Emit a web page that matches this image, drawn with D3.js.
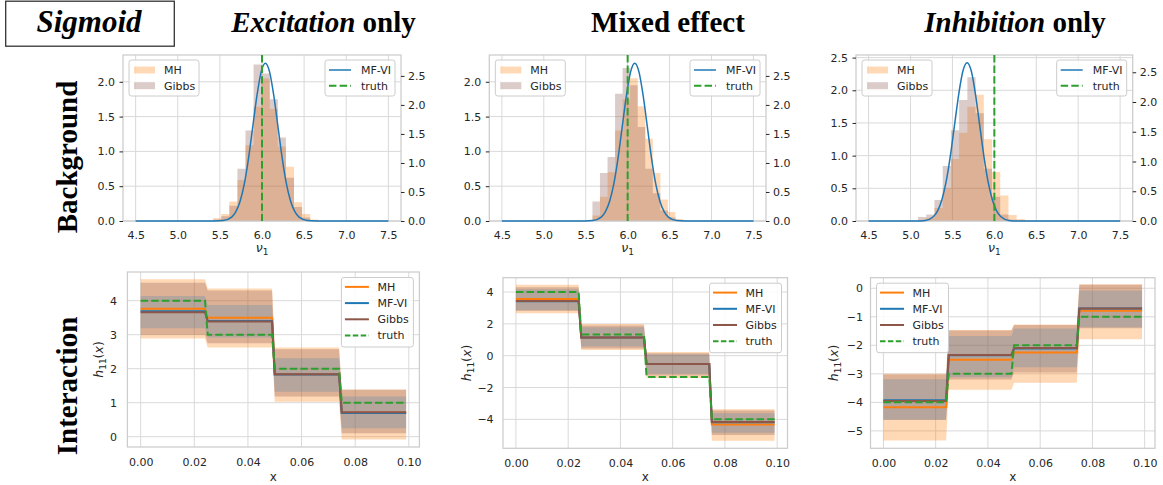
<!DOCTYPE html>
<html><head><meta charset="utf-8">
<script src="https://cdn.jsdelivr.net/npm/d3@7"></script>
<style>body{margin:0;background:#fff}svg{display:block}</style>
</head><body>
<svg id="c" width="1163" height="485"></svg>
<script>
// ================= DATA =================
const cornerLabel = "Sigmoid";
const colTitlesItalic = ["Excitation", "", "Inhibition"];
const colTitlesPlain  = [" only", "Mixed effect", " only"];
const rowTitles = ["Background", "Interaction"];

// top row: posterior of nu_1
const nuTicks = [4.5, 5.0, 5.5, 6.0, 6.5, 7.0, 7.5];
const nuLimits = [4.35, 7.65];
const densTicksLeft = [[0, 0.5, 1.0, 1.5, 2.0], [0, 0.5, 1.0, 1.5, 2.0], [0, 0.5, 1.0, 1.5, 2.0, 2.5]];
const densTicksRight = [0, 0.5, 1.0, 1.5, 2.0, 2.5];
const densLimitsLeft = [[0, 2.385], [0, 2.385], [0, 2.54]];
const densLimitsRight = [[0, 2.86], [0, 2.86], [0, 2.79]];
const truthNu = 6.0;

// histograms (bin start, bin width, densities)
const excBinStart = 5.42, excBinWidth = 0.096;
const excMH    = [0.04, 0.10, 0.28, 0.59, 1.09, 1.64, 2.05, 1.61, 1.07, 0.78, 0.27, 0.10, 0.02];
const excGibbs = [0.02, 0.07, 0.22, 0.75, 1.30, 2.25, 2.12, 1.75, 1.20, 0.62, 0.20, 0.05, 0.01];
const mixBinStart = 5.58, mixBinWidth = 0.09;
const mixMH    = [0.08, 0.35, 0.70, 1.30, 1.75, 2.05, 1.65, 1.18, 0.69, 0.31, 0.13, 0.03];
const mixGibbs = [0.28, 0.69, 0.92, 1.83, 2.20, 1.95, 1.35, 0.75, 0.40, 0.15, 0.05, 0.01];
const inhBinStart = 5.09, inhBinWidth = 0.098;
const inhMH    = [0.02, 0.05, 0.20, 0.50, 0.95, 1.35, 1.75, 1.93, 1.25, 0.75, 0.39, 0.09, 0.03];
const inhGibbs = [0.06, 0.10, 0.32, 0.84, 1.39, 1.85, 2.20, 1.65, 0.80, 0.37, 0.10, 0.02, 0.00];

// MF-VI density curves
const excVIx = [4.5, 5.44, 5.54, 5.64, 5.69, 5.74, 5.79, 5.84, 5.89, 5.94, 5.99, 6.04, 6.09, 6.14, 6.19, 6.24, 6.29, 6.34, 6.39, 6.44, 6.54, 6.64, 7.5];
const excVIy = [0, 0.001, 0.008, 0.067, 0.16, 0.34, 0.64, 1.08, 1.62, 2.16, 2.57, 2.72, 2.57, 2.16, 1.62, 1.08, 0.64, 0.34, 0.16, 0.067, 0.008, 0.001, 0];
const mixVIx = [4.5, 5.485, 5.585, 5.685, 5.735, 5.785, 5.835, 5.885, 5.935, 5.985, 6.035, 6.085, 6.135, 6.185, 6.235, 6.285, 6.335, 6.385, 6.435, 6.485, 6.585, 6.685, 7.5];
const mixVIy = [0, 0.001, 0.008, 0.067, 0.16, 0.34, 0.64, 1.08, 1.62, 2.16, 2.57, 2.72, 2.57, 2.16, 1.62, 1.08, 0.64, 0.34, 0.16, 0.067, 0.008, 0.001, 0];
const inhVIx = [4.5, 5.075, 5.175, 5.275, 5.325, 5.375, 5.425, 5.475, 5.525, 5.575, 5.625, 5.675, 5.725, 5.775, 5.825, 5.875, 5.925, 5.975, 6.025, 6.075, 6.175, 6.275, 7.5];
const inhVIy = [0, 0.001, 0.010, 0.076, 0.175, 0.36, 0.66, 1.09, 1.61, 2.13, 2.52, 2.66, 2.52, 2.13, 1.61, 1.09, 0.66, 0.36, 0.175, 0.076, 0.010, 0.001, 0];

// bottom row: interaction functions h11(x), piecewise constant
const xTicks = [0, 0.02, 0.04, 0.06, 0.08, 0.10];
const xLimits = [-0.00495, 0.10395];
const segStart = [0, 0.025, 0.050, 0.075];
const segEnd   = [0.024, 0.049, 0.074, 0.099];
const hTicks = [[0, 1, 2, 3, 4], [-4, -2, 0, 2, 4], [-5, -4, -3, -2, -1, 0]];
const hLimits = [[-0.303, 4.844], [-5.82, 4.90], [-5.61, 0.37]];

const excTruth = [4, 3, 2, 1];
const excMHmean = [3.76, 3.50, 1.84, 0.71];
const excVImean = [3.69, 3.40, 1.83, 0.70];
const excGBmean = [3.66, 3.39, 1.84, 0.72];
const excMHlo = [2.89, 2.62, 1.03, -0.08], excMHhi = [4.63, 4.36, 2.62, 1.39];
const excGBlo = [3.00, 2.75, 1.18, 0.10],  excGBhi = [4.53, 4.30, 2.57, 1.38];
const excVIlo = [3.19, 2.92, 1.32, 0.25],  excVIhi = [4.14, 3.87, 2.31, 1.18];

const mixTruth = [4, 1.333, -1.333, -4];
const mixMHmean = [3.56, 1.15, -0.52, -4.33];
const mixVImean = [3.42, 1.14, -0.53, -4.18];
const mixGBmean = [3.43, 1.15, -0.52, -4.17];
const mixMHlo = [2.66, 0.36, -1.40, -5.34], mixMHhi = [4.46, 1.99, 0.23, -3.37];
const mixGBlo = [2.80, 0.45, -1.25, -4.98], mixGBhi = [4.30, 1.90, 0.15, -3.45];
const mixVIlo = [2.87, 0.57, -1.15, -4.84], mixVIhi = [4.17, 1.78, 0.08, -3.62];

const inhTruth = [-4, -3, -2, -1];
const inhMHmean = [-4.17, -2.51, -2.25, -0.79];
const inhVImean = [-3.93, -2.35, -2.11, -0.71];
const inhGBmean = [-3.95, -2.34, -2.09, -0.71];
const inhMHlo = [-5.34, -3.56, -3.31, -1.79], inhMHhi = [-3.00, -1.46, -1.27, 0.14];
const inhGBlo = [-4.62, -3.20, -2.95, -1.40], inhGBhi = [-3.02, -1.48, -1.29, 0.12];
const inhVIlo = [-4.61, -3.12, -2.77, -1.37], inhVIhi = [-3.19, -1.67, -1.41, -0.08];

// ================= DRAWING =================
const C = {orange:"#ff7f0e", blue:"#1f77b4", brown:"#8c564b", green:"#2ca02c",
           grid:"#d9d9d9", spine:"#cccccc", text:"#262626"};
const SANS = "'DejaVu Sans', sans-serif";
const SERIF = "'Liberation Serif', 'Times New Roman', serif";
const svg = d3.select("#c");

function styleAxis(g) {
  g.select(".domain").remove();
  g.selectAll(".tick line").attr("stroke", C.text).attr("stroke-width", 1);
  g.selectAll(".tick text").attr("fill", C.text).style("font-family", SANS).style("font-size", "11px");
}

function legend(g, x0, y0, w, h, items, rowY, dy, handleX, handleW, textX) {
  const lg = g.append("g");
  lg.append("rect").attr("x", x0).attr("y", y0).attr("width", w).attr("height", h)
    .attr("rx", 2.5).attr("fill", "#fff").attr("fill-opacity", 0.85)
    .attr("stroke", C.spine).attr("stroke-width", 1);
  items.forEach((it, i) => {
    const yy = y0 + rowY + i * dy;
    if (it.type === "patch") {
      lg.append("rect").attr("x", x0 + handleX).attr("y", yy - 3.5).attr("width", handleW).attr("height", 7)
        .attr("fill", it.color).attr("fill-opacity", it.alpha);
    } else {
      lg.append("line").attr("x1", x0 + handleX).attr("x2", x0 + handleX + handleW).attr("y1", yy).attr("y2", yy)
        .attr("stroke", it.color).attr("stroke-width", it.width)
        .attr("stroke-dasharray", it.dash || null);
    }
    lg.append("text").attr("x", x0 + textX).attr("y", yy).attr("dy", "0.36em")
      .attr("fill", C.text).style("font-family", SANS).style("font-size", "11px").text(it.label);
  });
}

// ---------- top panels ----------
const topBoxes = [{l:123, r:401, t:55, b:221}, {l:489.3, r:766, t:55, b:221}, {l:856, r:1132.7, t:55, b:221}];
const topData = [
  {start: excBinStart, w: excBinWidth, mh: excMH, gb: excGibbs, vx: excVIx, vy: excVIy},
  {start: mixBinStart, w: mixBinWidth, mh: mixMH, gb: mixGibbs, vx: mixVIx, vy: mixVIy},
  {start: inhBinStart, w: inhBinWidth, mh: inhMH, gb: inhGibbs, vx: inhVIx, vy: inhVIy}
];

function histPoints(start, w, h) {
  const pts = h.map((v, i) => [start + i * w, v]);
  pts.push([start + h.length * w, h[h.length - 1]]);
  return pts;
}

topData.forEach((d, k) => {
  const p = topBoxes[k];
  const g = svg.append("g");
  const x = d3.scaleLinear().domain(nuLimits).range([p.l, p.r]);
  const yl = d3.scaleLinear().domain(densLimitsLeft[k]).range([p.b, p.t]);
  const yr = d3.scaleLinear().domain(densLimitsRight[k]).range([p.b, p.t]);

  g.selectAll(null).data(nuTicks).join("line")
    .attr("x1", v => x(v)).attr("x2", v => x(v)).attr("y1", p.t).attr("y2", p.b)
    .attr("stroke", C.grid).attr("stroke-width", 1);
  g.selectAll(null).data(densTicksLeft[k]).join("line")
    .attr("x1", p.l).attr("x2", p.r).attr("y1", v => yl(v)).attr("y2", v => yl(v))
    .attr("stroke", C.grid).attr("stroke-width", 1);

  const area = d3.area().curve(d3.curveStepAfter).x(q => x(q[0])).y0(yl(0)).y1(q => yl(q[1]));
  g.append("path").attr("d", area(histPoints(d.start, d.w, d.mh))).attr("fill", C.orange).attr("fill-opacity", 0.3);
  g.append("path").attr("d", area(histPoints(d.start, d.w, d.gb))).attr("fill", C.brown).attr("fill-opacity", 0.3);

  g.append("rect").attr("x", p.l).attr("y", p.t).attr("width", p.r - p.l).attr("height", p.b - p.t)
    .attr("fill", "none").attr("stroke", C.spine).attr("stroke-width", 1.25);

  const line = d3.line().curve(d3.curveMonotoneX).x(q => x(q[0])).y(q => yr(q[1]));
  g.append("path").attr("d", line(d.vx.map((v, i) => [v, d.vy[i]])))
    .attr("fill", "none").attr("stroke", C.blue).attr("stroke-width", 1.5);
  g.append("line").attr("x1", x(truthNu)).attr("x2", x(truthNu)).attr("y1", p.t).attr("y2", p.b)
    .attr("stroke", C.green).attr("stroke-width", 2).attr("stroke-dasharray", "7.4,3.2");

  const ax = g.append("g").attr("transform", `translate(0,${p.b})`)
    .call(d3.axisBottom(x).tickValues(nuTicks).tickSize(0).tickPadding(9.7).tickFormat(d3.format(".1f")));
  styleAxis(ax);
  const ayl = g.append("g").attr("transform", `translate(${p.l},0)`)
    .call(d3.axisLeft(yl).tickValues(densTicksLeft[k]).tickSize(3.5).tickPadding(4.5).tickFormat(d3.format(".1f")));
  styleAxis(ayl);
  const ayr = g.append("g").attr("transform", `translate(${p.r},0)`)
    .call(d3.axisRight(yr).tickValues(densTicksRight).tickSize(3.5).tickPadding(3.5).tickFormat(d3.format(".1f")));
  styleAxis(ayr);

  // x label nu_1
  const xl = g.append("text").attr("x", (p.l + p.r) / 2).attr("y", 252).attr("text-anchor", "middle")
    .attr("fill", C.text).style("font-family", SANS).style("font-size", "12.5px");
  xl.append("tspan").style("font-style", "italic").text("ν");
  xl.append("tspan").attr("dy", 2.8).style("font-size", "9px").text("1");

  legend(g, p.l + 6, p.t + 5, 70, 36,
    [{type:"patch", color:C.orange, alpha:0.3, label:"MH"}, {type:"patch", color:C.brown, alpha:0.3, label:"Gibbs"}],
    10, 15.7, 5, 21, 35);
  legend(g, p.r - 6 - 70, p.t + 5, 70, 36,
    [{type:"line", color:C.blue, width:1.5, label:"MF-VI"}, {type:"line", color:C.green, width:2, dash:"7.4,3.2", label:"truth"}],
    10, 15.7, 4, 22, 36);
});

// ---------- bottom panels ----------
const botBoxes = [{l:127.4, r:419.4, t:272, b:447, ylx:98.5, pad:10.5},
                  {l:503, r:787.5, t:277.7, b:448.3, ylx:466.7, pad:9.4},
                  {l:870.5, r:1155, t:277.7, b:448.3, ylx:833.8, pad:7.5}];
const botData = [
  {truth: excTruth, mh: excMHmean, vi: excVImean, gb: excGBmean, mhlo: excMHlo, mhhi: excMHhi, gblo: excGBlo, gbhi: excGBhi, vilo: excVIlo, vihi: excVIhi, legendLeft: false},
  {truth: mixTruth, mh: mixMHmean, vi: mixVImean, gb: mixGBmean, mhlo: mixMHlo, mhhi: mixMHhi, gblo: mixGBlo, gbhi: mixGBhi, vilo: mixVIlo, vihi: mixVIhi, legendLeft: false},
  {truth: inhTruth, mh: inhMHmean, vi: inhVImean, gb: inhGBmean, mhlo: inhMHlo, mhhi: inhMHhi, gblo: inhGBlo, gbhi: inhGBhi, vilo: inhVIlo, vihi: inhVIhi, legendLeft: true}
];

function stepPts(vals) {
  const pts = [];
  vals.forEach((v, i) => { pts.push([segStart[i], v]); pts.push([segEnd[i], v]); });
  return pts;
}
function bandPts(lo, hi) {
  const pts = [];
  lo.forEach((v, i) => { pts.push([segStart[i], v, hi[i]]); pts.push([segEnd[i], v, hi[i]]); });
  return pts;
}

botData.forEach((d, k) => {
  const p = botBoxes[k];
  const g = svg.append("g");
  const x = d3.scaleLinear().domain(xLimits).range([p.l, p.r]);
  const y = d3.scaleLinear().domain(hLimits[k]).range([p.b, p.t]);

  g.selectAll(null).data(xTicks).join("line")
    .attr("x1", v => x(v)).attr("x2", v => x(v)).attr("y1", p.t).attr("y2", p.b)
    .attr("stroke", C.grid).attr("stroke-width", 1);
  g.selectAll(null).data(hTicks[k]).join("line")
    .attr("x1", p.l).attr("x2", p.r).attr("y1", v => y(v)).attr("y2", v => y(v))
    .attr("stroke", C.grid).attr("stroke-width", 1);

  const band = d3.area().x(q => x(q[0])).y0(q => y(q[1])).y1(q => y(q[2]));
  g.append("path").attr("d", band(bandPts(d.mhlo, d.mhhi))).attr("fill", C.orange).attr("fill-opacity", 0.3);
  g.append("path").attr("d", band(bandPts(d.gblo, d.gbhi))).attr("fill", C.brown).attr("fill-opacity", 0.3);
  g.append("path").attr("d", band(bandPts(d.vilo, d.vihi))).attr("fill", C.blue).attr("fill-opacity", 0.2);

  const line = d3.line().x(q => x(q[0])).y(q => y(q[1]));
  g.append("path").attr("d", line(stepPts(d.mh))).attr("fill", "none").attr("stroke", C.orange).attr("stroke-width", 2);
  g.append("path").attr("d", line(stepPts(d.vi))).attr("fill", "none").attr("stroke", C.blue).attr("stroke-width", 2);
  g.append("path").attr("d", line(stepPts(d.gb))).attr("fill", "none").attr("stroke", C.brown).attr("stroke-width", 2);
  g.append("path").attr("d", line(stepPts(d.truth))).attr("fill", "none").attr("stroke", C.green).attr("stroke-width", 2)
    .attr("stroke-dasharray", "7.4,3.2");

  g.append("rect").attr("x", p.l).attr("y", p.t).attr("width", p.r - p.l).attr("height", p.b - p.t)
    .attr("fill", "none").attr("stroke", C.spine).attr("stroke-width", 1.25);

  const ax = g.append("g").attr("transform", `translate(0,${p.b})`)
    .call(d3.axisBottom(x).tickValues(xTicks).tickSize(0).tickPadding(11.2).tickFormat(d3.format(".2f")));
  styleAxis(ax);
  const ay = g.append("g").attr("transform", `translate(${p.l},0)`)
    .call(d3.axisLeft(y).tickValues(hTicks[k]).tickSize(0).tickPadding(p.pad).tickFormat(d3.format("d")));
  styleAxis(ay);

  g.append("text").attr("x", (p.l + p.r) / 2).attr("y", 481).attr("text-anchor", "middle")
    .attr("fill", C.text).style("font-family", SANS).style("font-size", "12px").text("x");

  const yl = g.append("text").attr("transform", `translate(${p.ylx},${(p.t + p.b) / 2}) rotate(-90)`)
    .attr("text-anchor", "middle").attr("dy", "0.35em")
    .attr("fill", C.text).style("font-family", SANS).style("font-size", "12.5px");
  yl.append("tspan").style("font-style", "italic").text("h");
  yl.append("tspan").attr("dy", 2.8).style("font-size", "9px").text("11");
  yl.append("tspan").attr("dy", -2.8).text("(");
  yl.append("tspan").style("font-style", "italic").text("x");
  yl.append("tspan").text(")");

  const lw = 72, lx = d.legendLeft ? p.l + 6 : p.r - 6 - lw;
  legend(g, lx, p.t + 5.5, lw, 69.5,
    [{type:"line", color:C.orange, width:2, label:"MH"},
     {type:"line", color:C.blue, width:2, label:"MF-VI"},
     {type:"line", color:C.brown, width:2, label:"Gibbs"},
     {type:"line", color:C.green, width:2, dash:"5.5,2.4", label:"truth"}],
    9.4, 16.2, 3.5, 24, 36);
});

// ---------- titles ----------
svg.append("rect").attr("x", 5.7).attr("y", 1.2).attr("width", 168.6).attr("height", 45)
  .attr("fill", "none").attr("stroke", "#333").attr("stroke-width", 1.3);
svg.append("text").attr("x", 89).attr("y", 32).attr("text-anchor", "middle")
  .style("font-family", SERIF).style("font-size", "31px").style("font-weight", "bold").style("font-style", "italic")
  .attr("fill", "#000").text(cornerLabel);

const colCenters = [323.5, 668, 1015];
colCenters.forEach((cx, i) => {
  const t = svg.append("text").attr("x", cx).attr("y", 32).attr("text-anchor", "middle")
    .style("font-family", SERIF).style("font-size", "29px").style("font-weight", "bold").attr("fill", "#000");
  if (colTitlesItalic[i]) t.append("tspan").style("font-style", "italic").text(colTitlesItalic[i]);
  t.append("tspan").text(colTitlesPlain[i]);
});

const rowCenters = [157, 386];
rowCenters.forEach((cy, i) => {
  svg.append("text").attr("transform", `translate(67,${cy}) rotate(-90)`).attr("text-anchor", "middle")
    .attr("dy", "0.35em").style("font-family", SERIF).style("font-size", "29px").style("font-weight", "bold")
    .attr("fill", "#000").text(rowTitles[i]);
});
</script>
</body></html>
